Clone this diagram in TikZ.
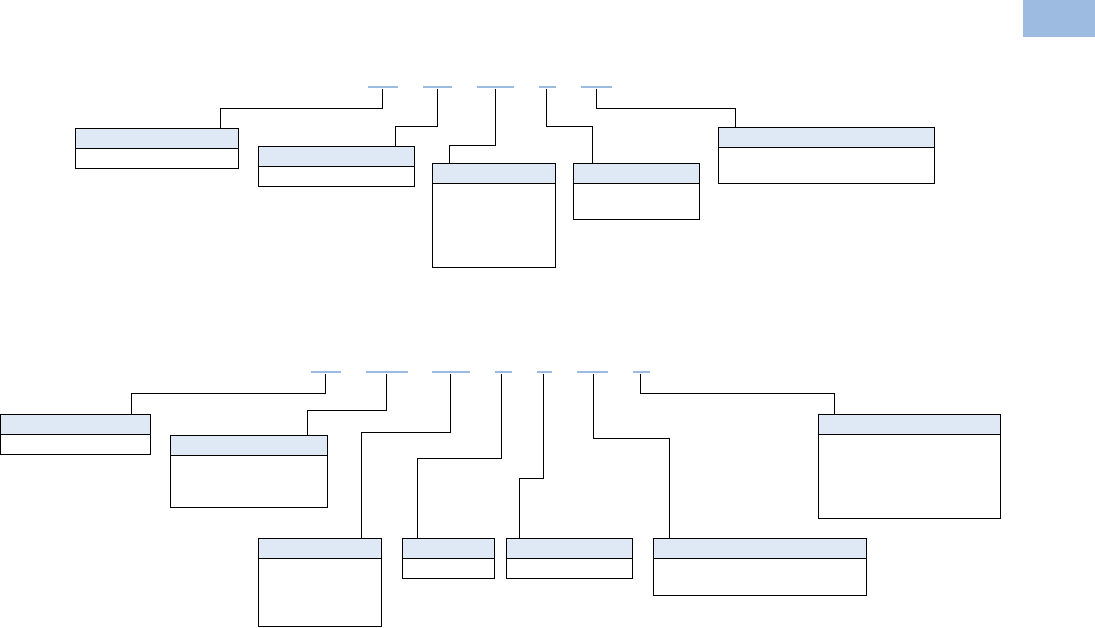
\documentclass[tikz,border=0pt]{standalone}
\definecolor{barblue}{HTML}{9DBBE0}
\definecolor{hdrblue}{HTML}{DFE8F5}
\tikzset{
  bar/.style={fill=barblue, draw=none, inner sep=0pt, minimum height=2.8pt},
  box/.style={draw=black, line width=1.15pt, inner sep=0pt, anchor=north west,
    path picture={
      \fill[hdrblue] (path picture bounding box.north west) rectangle ([yshift=-20pt]path picture bounding box.north east);
      \draw[line width=1.15pt] ([yshift=-20pt]path picture bounding box.north west) -- ([yshift=-20pt]path picture bounding box.north east);
    }},
  conn/.style={draw=black, line width=0.95pt},
}
\newcommand{\mybox}[5]{\node[box, minimum width=#4pt, minimum height=#5pt] (#1) at (#2,#3) {};}
\begin{document}
\begin{tikzpicture}[x=1pt,y=-1pt]
\useasboundingbox (0,0) rectangle (1095,627);
% corner rectangle
\node[fill=barblue, inner sep=0pt, minimum width=72pt, minimum height=37pt, anchor=north west] (corner) at (1023,0) {};
% ---- top row bars
\node[bar, minimum width=30pt] (t1) at (383,87) {};
\node[bar, minimum width=29pt] (t2) at (437.5,87) {};
\node[bar, minimum width=37pt] (t3) at (495.5,87) {};
\node[bar, minimum width=17pt] (t4) at (547.5,87) {};
\node[bar, minimum width=31pt] (t5) at (596.5,87) {};
% ---- top row boxes
\mybox{a1}{75}{128}{163}{40}
\mybox{a2}{258}{146}{156}{40}
\mybox{a3}{432}{163}{123}{104}
\mybox{a4}{573}{163}{126}{56}
\mybox{a5}{718}{127}{216}{56}
% ---- top connectors
\draw[conn] (t1.south -| 382,0) |- (220,108) -- (a1.north -| 220,0);
\draw[conn] (t2.south -| 437,0) |- (395,126) -- (a2.north -| 395,0);
\draw[conn] (t3.south -| 495,0) |- (449,145) -- (a3.north -| 449,0);
\draw[conn] (t4.south -| 546,0) |- (592,126) -- (a4.north -| 592,0);
\draw[conn] (t5.south -| 596,0) |- (735,108) -- (a5.north -| 735,0);
% ---- bottom row bars
\node[bar, minimum width=30pt] (s1) at (326,372) {};
\node[bar, minimum width=42pt] (s2) at (387,372) {};
\node[bar, minimum width=38pt] (s3) at (451,372) {};
\node[bar, minimum width=17pt] (s4) at (503.5,372) {};
\node[bar, minimum width=15pt] (s5) at (544.5,372) {};
\node[bar, minimum width=31pt] (s6) at (592.5,372) {};
\node[bar, minimum width=17pt] (s7) at (641.5,372) {};
% ---- bottom row boxes
\mybox{b1}{0}{414}{150}{40}
\mybox{b2}{170}{435}{157}{72}
\mybox{b3}{258}{538}{123}{88}
\mybox{b4}{402}{538}{92}{40}
\mybox{b5}{506}{538}{126}{40}
\mybox{b6}{653}{538}{213}{57}
\mybox{b7}{818}{414}{182}{104}
% ---- bottom connectors
\draw[conn] (s1.south -| 325,0) |- (131,393) -- (b1.north -| 131,0);
\draw[conn] (s2.south -| 386,0) |- (307,410) -- (b2.north -| 307,0);
\draw[conn] (s3.south -| 450,0) |- (361,432) -- (b3.north -| 361,0);
\draw[conn] (s4.south -| 501,0) |- (417,458) -- (b4.north -| 417,0);
\draw[conn] (s5.south -| 543,0) |- (519,478) -- (b5.north -| 519,0);
\draw[conn] (s6.south -| 593,0) |- (669,438) -- (b6.north -| 669,0);
\draw[conn] (s7.south -| 640,0) |- (834,393) -- (b7.north -| 834,0);
\end{tikzpicture}
\end{document}
